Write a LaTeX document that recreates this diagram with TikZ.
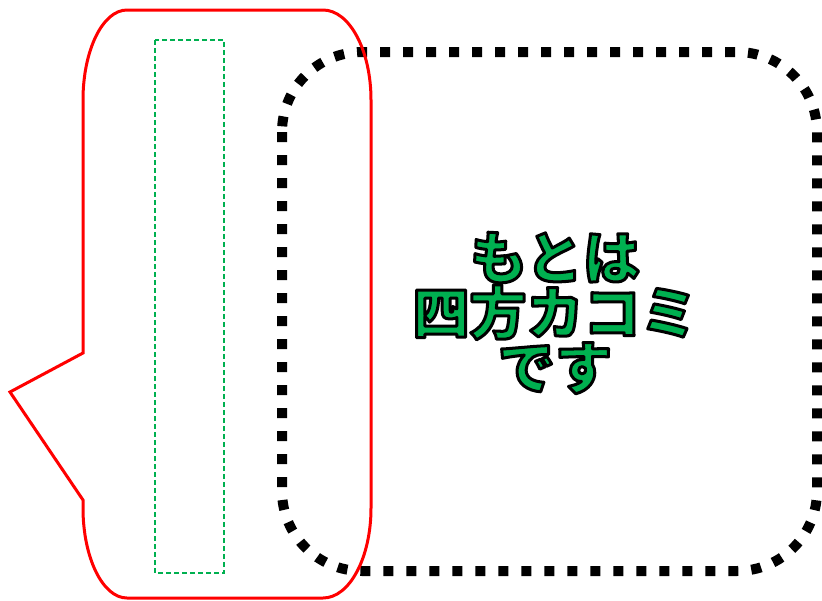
\documentclass[tikz,border=0pt]{standalone}
\usepackage{fontspec}
\newfontfamily\jp{Noto Sans CJK JP}
\definecolor{offgreen}{RGB}{0,176,80}
\newcommand\outlinedtext[1]{\special{pdf:code q 0 G 3 w 1 j 2 Tr}#1\special{pdf:code Q}}
\begin{document}
\begin{tikzpicture}[x=1pt,y=-1pt,
  bubble/.style={draw=red,line width=3pt,line join=miter},
  guide/.style={draw=offgreen,line width=1.2pt,dash pattern=on 5pt off 3pt},
  dotbox/.style={draw=black,line width=10pt,dash pattern=on 10pt off 13pt,rounded corners=80pt},
  label/.style={align=center,text=offgreen,font=\jp\bfseries\fontsize{57}{55}\selectfont,inner sep=0pt}]
\useasboundingbox (0,0) rectangle (822,600);
\draw[dotbox] (282,52) rectangle (817,571);
\draw[bubble] (127,10) -- (323,10)
  .. controls (349.5,10) and (371,50.3) .. (371,100)
  -- (371,508)
  .. controls (371,557.7) and (349.5,598) .. (323,598)
  -- (127,598)
  .. controls (102.7,598) and (83,557.7) .. (83,508)
  -- (83,500) -- (10,392) -- (83,353) -- (83,100)
  .. controls (83,50.3) and (102.7,10) .. (127,10) -- cycle;
\draw[guide] (155,40) rectangle (224,573);
\node[label] (txt) at (555,313) {\outlinedtext{もとは}\\\outlinedtext{四方カコミ}\\\outlinedtext{です}};
\end{tikzpicture}
\end{document}
